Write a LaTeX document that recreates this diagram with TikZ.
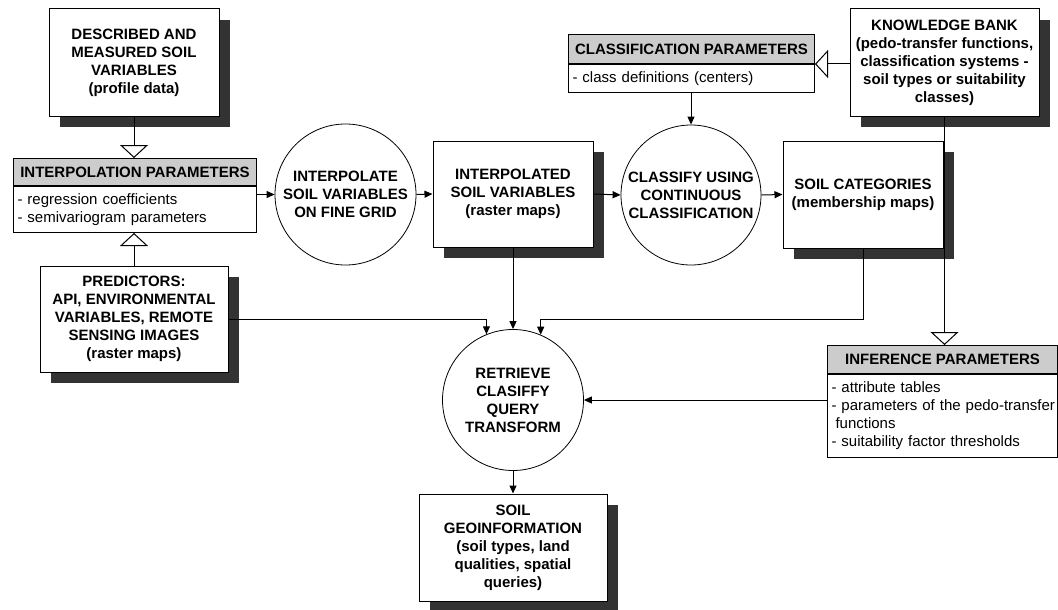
\documentclass[tikz,border=0pt]{standalone}
\usepackage{fontspec}
\setmainfont{Liberation Sans}
\usetikzlibrary{arrows.meta,shadows}
\definecolor{shd}{HTML}{333333}
\definecolor{hdrgray}{HTML}{CCCCCC}
\begin{document}
\begin{tikzpicture}[x=1pt,y=-1pt,
  font=\fontsize{15}{18}\selectfont,
  box/.style={draw,line width=1pt,fill=white,align=center,inner sep=1pt,
    font=\fontsize{15}{18}\selectfont\bfseries,
    general shadow={fill=shd,shadow xshift=11pt,shadow yshift=-11pt}},
  proc/.style={draw,circle,line width=0.8pt,fill=white,align=center,inner sep=0pt,
    font=\fontsize{15}{18}\selectfont\bfseries},
  hdr/.style={draw,line width=1pt,fill=hdrgray,anchor=north west,inner sep=0pt,
    font=\fontsize{15}{18}\selectfont\bfseries},
  bdy/.style={draw,line width=1pt,fill=white,anchor=north west,align=left,
    inner xsep=4pt,inner ysep=0pt,font=\fontsize{15}{18}\selectfont},
  arr/.style={-{Triangle[length=8pt,width=7pt]},line width=1pt},
  gen/.style={-{Triangle[open,length=13pt,width=28pt,fill=white]},line width=1pt}
]
\useasboundingbox (0,0) rectangle (1058,610);

% boxes with shadows
\node[box,minimum width=170pt,minimum height=107pt] (db) at (134,62.5)
  {DESCRIBED AND\\MEASURED SOIL\\VARIABLES\\(profile data)};
\node[box,minimum width=188pt,minimum height=106pt] (pred) at (134,319)
  {PREDICTORS:\\API, ENVIRONMENTAL\\VARIABLES, REMOTE\\SENSING IMAGES\\(raster maps)};
\node[box,minimum width=160pt,minimum height=106pt] (ib) at (513,194)
  {INTERPOLATED\\SOIL VARIABLES\\(raster maps)};
\node[box,minimum width=160pt,minimum height=107pt] (sc) at (863,194.5)
  {SOIL CATEGORIES\\(membership maps)};
\node[box,minimum width=189pt,minimum height=107pt] (kb) at (944.5,62.5)
  {KNOWLEDGE BANK\\(pedo-transfer functions,\\classification systems -\\soil types or suitability\\classes)};
\node[box,minimum width=188pt,minimum height=107pt] (geo) at (513,547.5)
  {SOIL\\GEOINFORMATION\\(soil types, land\\qualities, spatial\\queries)};

% processes
\node[proc,minimum size=141pt] (c1) at (345.5,194.5)
  {INTERPOLATE\\SOIL VARIABLES\\ON FINE GRID};
\node[proc,minimum size=140pt] (c2) at (691,195)
  {CLASSIFY USING\\CONTINUOUS\\CLASSIFICATION};
\node[proc,minimum size=141pt] (ret) at (513,400)
  {RETRIEVE\\CLASIFFY\\QUERY\\TRANSFORM};

% parameter boxes
\node[hdr,minimum width=243pt,minimum height=27pt] (iph) at (13,158)
  {INTERPOLATION PARAMETERS};
\node[bdy,text width=235pt,minimum height=46pt] (ipb) at (iph.south west)
  {- regression coefficients\\- semivariogram parameters};
\node[hdr,minimum width=246pt,minimum height=29pt] (cph) at (568,34)
  {CLASSIFICATION PARAMETERS};
\node[bdy,text width=238pt,minimum height=28pt] (cpb) at (cph.south west)
  {- class definitions (centers)};
\node[hdr,minimum width=230pt,minimum height=28pt] (infh) at (827,345)
  {INFERENCE PARAMETERS};
\node[bdy,text width=222pt,minimum height=83pt] (infb) at (infh.south west)
  {- attribute tables\\\mbox{- parameters of the pedo-transfer}\\\hspace*{4pt}functions\\- suitability factor thresholds};

% connectors
\draw[gen] (db.south) -- (db.south |- iph.north);
\draw[gen] (pred.north) -- (pred.north |- ipb.south);
\draw[gen] (kb.west |- cph.south east) -- (cph.south east);
\draw[gen] (kb.south) -- (kb.south |- infh.north);
\draw[arr] (c1.west -| ipb.east) -- (c1.west);
\draw[arr] (c1.east) -- (ib.west);
\draw[arr] (ib.east) -- (c2.west);
\draw[arr] (c2.east) -- (sc.west);
\draw[arr] (cpb.south -| c2.north) -- (c2.north);
\draw[arr] (ib.south) -- (ret.north);
\draw[arr] (pred.east) -| (ret.112.5);
\draw[arr] (sc.south) |- (pred.east -| ret.67.5) -- (ret.67.5);
\draw[arr] (infb.west |- ret.east) -- (ret.east);
\draw[arr] (ret.south) -- (geo.north);
\end{tikzpicture}
\end{document}
